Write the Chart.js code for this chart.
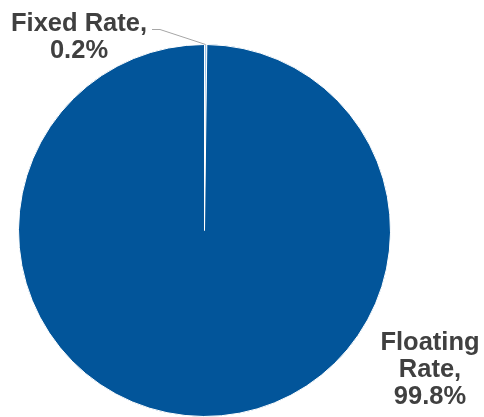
<!DOCTYPE html>
<html>
<head>
<meta charset="utf-8">
<script src="https://cdn.jsdelivr.net/npm/chart.js@4.4.0/dist/chart.umd.min.js"></script>
<style>
  html, body { margin: 0; padding: 0; background: #fff; }
  #wrap { width: 484px; height: 417px; }
</style>
</head>
<body>
<div id="wrap"><canvas id="rateChart" width="484" height="417"></canvas></div>
<script>
var categories = ['Fixed Rate', 'Floating Rate'];
var shares = [0.2, 99.8];
var sliceColors = ['#9DC3E6', '#02559A'];

// label text blocks, one per slice (the value line is built from shares)
var labelLines = [
    ['Fixed Rate,'],
    ['Floating', 'Rate,']
];

var pieLabels = {
    id: 'pieLabels',
    afterDatasetsDraw: function (chart) {
        var ctx = chart.ctx;
        var arcs = chart.getDatasetMeta(0).data;
        ctx.save();
        ctx.font = 'bold 25.5px "Liberation Sans", Arial, sans-serif';
        ctx.fillStyle = '#404040';
        ctx.textAlign = 'center';
        ctx.textBaseline = 'alphabetic';

        // fixed rate: label above-left with a leader line to the slice
        var a = arcs[0];
        var mid = (a.startAngle + a.endAngle) / 2;
        var ex = a.x + Math.cos(mid) * a.outerRadius;
        var ey = a.y + Math.sin(mid) * a.outerRadius;
        var lines0 = labelLines[0].concat([shares[0].toFixed(1) + '%']);
        lines0.forEach(function (t, k) { ctx.fillText(t, 79, 31 + k * 27); });

        ctx.strokeStyle = '#A6A6A6';
        ctx.lineWidth = 1;
        ctx.beginPath();
        ctx.moveTo(152, 29.5);
        ctx.lineTo(160, 29.5);
        ctx.lineTo(ex, ey);
        ctx.stroke();

        // floating rate: label at the lower right
        var lines1 = labelLines[1].concat([shares[1].toFixed(1) + '%']);
        lines1.forEach(function (t, k) { ctx.fillText(t, 430, 350 + k * 27); });
        ctx.restore();
    }
};

new Chart(document.getElementById('rateChart'), {
    type: 'pie',
    data: {
        labels: categories,
        datasets: [{
            data: shares,
            backgroundColor: sliceColors,
            borderColor: '#ffffff',
            borderWidth: 1
        }]
    },
    options: {
        responsive: false,
        animation: false,
        layout: { padding: { left: 18, right: 93, top: 44, bottom: 0 } },
        plugins: {
            legend: { display: false },
            tooltip: { enabled: false }
        }
    },
    plugins: [pieLabels]
});
</script>
</body>
</html>
